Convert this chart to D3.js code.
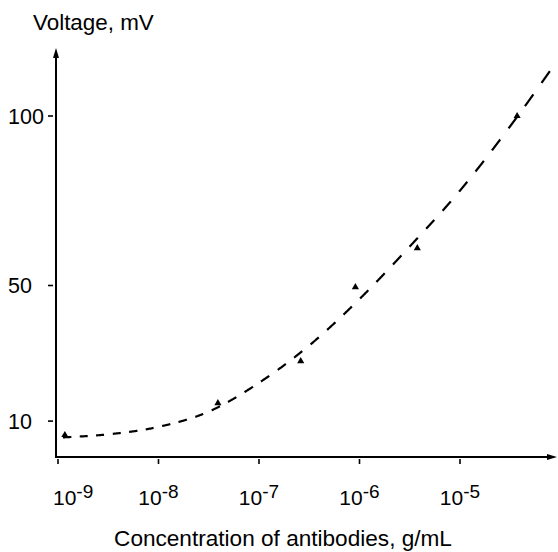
<!DOCTYPE html>
<html>
<head>
<meta charset="utf-8">
<script src="https://cdn.jsdelivr.net/npm/d3@7"></script>
<style>
  html, body { margin: 0; padding: 0; background: #fff; }
  svg text { font-family: "Liberation Sans", Arial, Helvetica, sans-serif; fill: #000; }
</style>
</head>
<body>
<svg id="chart" width="558" height="552"></svg>
<script>
// Measured calibration points: antibody concentration (g/mL) and sensor voltage (mV)
const concentrations = [1.17e-9, 3.9e-8, 2.6e-7, 9.1e-7, 3.76e-6, 3.7e-5];
const voltages = [5.9, 15.3, 27.7, 49.5, 61, 100];

// Fitted calibration curve
const fitConcentrations = [1.12e-9, 3.16e-9, 1e-8, 3.16e-8, 1e-7, 3.16e-7, 1e-6, 3.16e-6, 1e-5, 3.16e-5, 9.12e-5];
const fitVoltages = [5.2, 6.1, 8.3, 12.8, 21.3, 32.3, 46.0, 61.5, 78.0, 97.0, 116.0];

// Axis ticks
const xTicks = [1e-9, 1e-8, 1e-7, 1e-6, 1e-5];
const xTickExponents = ["-9", "-8", "-7", "-6", "-5"];
const yTicks = [10, 50, 100];
const yTickLabels = ["10", "50", "100"];

const svg = d3.select("#chart");

const x = d3.scaleLog().domain([1e-9, 1e-5]).range([58, 460]);
const y = d3.scaleLinear().domain([0, 100]).range([455, 116]);

const axisX0 = 56, axisY0 = 457, axisXEnd = 557, axisYTop = 48;

// Axis lines
svg.append("line")
  .attr("x1", axisX0).attr("y1", axisY0 + 1)
  .attr("x2", axisX0).attr("y2", axisYTop + 6)
  .attr("stroke", "#000").attr("stroke-width", 2);
svg.append("line")
  .attr("x1", axisX0 - 1).attr("y1", axisY0)
  .attr("x2", axisXEnd - 6).attr("y2", axisY0)
  .attr("stroke", "#000").attr("stroke-width", 2);

// Arrow heads
svg.append("path")
  .attr("d", `M${axisX0},${axisYTop} L${axisX0 - 3},${axisYTop + 10} L${axisX0 + 3},${axisYTop + 10} Z`)
  .attr("fill", "#000");
svg.append("path")
  .attr("d", `M${axisXEnd},${axisY0} L${axisXEnd - 10},${axisY0 - 3} L${axisXEnd - 10},${axisY0 + 3} Z`)
  .attr("fill", "#000");

// X ticks and labels (powers of ten)
xTicks.forEach((t, i) => {
  const px = x(t);
  svg.append("line")
    .attr("x1", px).attr("x2", px)
    .attr("y1", axisY0 + 2).attr("y2", axisY0 + 7)
    .attr("stroke", "#000").attr("stroke-width", 1.6);
  const label = svg.append("text")
    .attr("y", 505)
    .attr("font-size", 21);
  if (i === 0) {
    label.attr("x", px - 5).attr("text-anchor", "start");
  } else {
    label.attr("x", px).attr("text-anchor", "middle");
  }
  label.append("tspan").text("10");
  label.append("tspan").attr("dy", -7).attr("font-size", 19).text(xTickExponents[i]);
});

// Y ticks and labels
yTicks.forEach((t, i) => {
  const py = y(t);
  svg.append("line")
    .attr("x1", axisX0 - 8).attr("x2", axisX0 - 3)
    .attr("y1", py).attr("y2", py)
    .attr("stroke", "#000").attr("stroke-width", 1.6);
  svg.append("text")
    .attr("x", 8).attr("y", py)
    .attr("dy", "0.36em")
    .attr("font-size", 21.5)
    .text(yTickLabels[i]);
});

// Axis titles
svg.append("text")
  .attr("x", 33).attr("y", 30)
  .attr("font-size", 22.4)
  .text("Voltage, mV");
svg.append("text")
  .attr("x", 283).attr("y", 546)
  .attr("text-anchor", "middle")
  .attr("font-size", 22.6)
  .text("Concentration of antibodies, g/mL");

// Fitted curve, dashed with a constant horizontal dash spacing
const fit = fitConcentrations.map((c, i) => [c, fitVoltages[i]]);
const line = d3.line()
  .x(d => x(d[0]))
  .y(d => y(d[1]))
  .curve(d3.curveMonotoneX);

const guide = svg.append("path").attr("d", line(fit)).attr("fill", "none").attr("stroke", "none");
const node = guide.node();
const total = node.getTotalLength();
const startX = x(fitConcentrations[0]);
const period = 16.5, dashLen = 8.5;
let d = "", on = false;
for (let s = 0; s <= total; s += 0.4) {
  const p = node.getPointAtLength(s);
  const phase = (p.x - startX) % period;
  const inDash = phase < dashLen;
  if (inDash) {
    d += (on ? "L" : "M") + p.x.toFixed(2) + "," + p.y.toFixed(2);
  }
  on = inDash;
}
guide.remove();
svg.append("path")
  .attr("d", d)
  .attr("fill", "none")
  .attr("stroke", "#000")
  .attr("stroke-width", 2.2)
  .attr("stroke-linecap", "butt");

// Measured points as filled triangles
svg.selectAll("path.pt")
  .data(concentrations.map((c, i) => [c, voltages[i]]))
  .join("path")
  .attr("class", "pt")
  .attr("transform", d => `translate(${x(d[0])},${y(d[1])})`)
  .attr("d", d3.symbol().type(d3.symbolTriangle).size(22))
  .attr("fill", "#000");
</script>
</body>
</html>
